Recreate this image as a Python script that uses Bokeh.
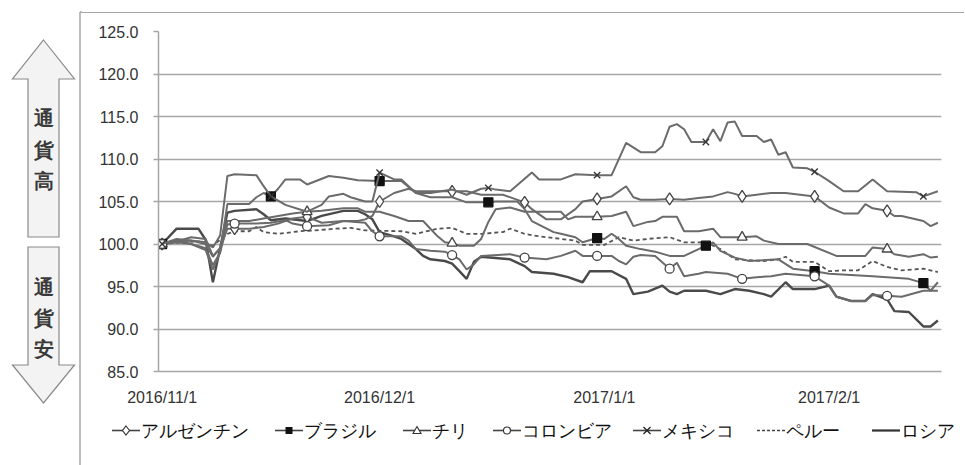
from bokeh.plotting import figure
from bokeh.models import Range1d, FixedTicker, ColumnDataSource, NumeralTickFormatter, Div
from bokeh.layouts import row, column
from bokeh.embed import file_html
from bokeh.resources import INLINE
import pandas as pd

START = "2016-11-01"
X_TICK_LABELS = ["2016/11/1", "2016/12/1", "2017/1/1", "2017/2/1"]
X_TICK_DATES = ["2016-11-01", "2016-12-01", "2017-01-01", "2017-02-01"]
Y_TICKS = [85, 90, 95, 100, 105, 110, 115, 120, 125]

# (days since 2016/11/1, index value)
ARGENTINA = [(0,100),(2,100.3),(4,100.8),(6,100.6),(7,98.6),(8,99.5),(9,101.8),(10,101.8),(12,101.8),(14,102.0),
             (16,102.4),(18,103.0),(20,103.2),(22,102.5),(25,102.7),(27,102.7),(28,102.9),(29,103.3),(30,105.0),(32,106.0),
             (34,106.5),(35,106.2),(38,106.2),(40,106.2),(42,106.2),(44,105.8),(45,105.8),(47,105.8),(50,104.9),(51,104.1),
             (53,102.9),(55,102.9),(57,104.1),(58,105.0),(60,105.3),(62,105.6),(64,106.8),(65,105.5),(66,105.2),(68,105.2),
             (70,105.3),(72,105.2),(74,105.4),(76,105.6),(78,106.1),(79,105.9),(80,105.6),(82,105.8),(84,106.0),(86,106.0),
             (90,105.6),(92,104.3),(94,103.6),(96,103.6),(97,104.7),(98,104.2),(100,103.9),(101,103.3),(102,103.3),(105,102.7),
             (106,102.1),(107,102.5)]
BRAZIL = [(0,100),(2,100.5),(4,100.0),(6,99.3),(7,97.0),(8,99.0),(9,104.7),(12,104.7),(13,105.5),(14,106.0),
          (15,105.6),(16,106.5),(17,107.6),(19,107.6),(20,107.0),(23,108.0),(25,107.8),(27,107.5),(30,107.4),(33,107.4),
          (35,106.0),(37,105.5),(40,105.5),(42,104.9),(45,104.9),(46,105.0),(49,105.0),(50,104.1),(51,102.7),(54,101.4),
          (55,101.2),(57,100.8),(58,100.2),(60,100.7),(61,100.6),(62,101.2),(63,100.6),(64,99.8),(66,99.4),(68,99.1),
          (70,98.6),(72,98.6),(74,99.4),(75,99.8),(76,100.2),(77,99.2),(79,98.4),(81,98.0),(85,98.2),(87,97.1),
          (90,96.8),(92,96.5),(98,96.2),(103,95.9),(105,95.4),(106,94.5),(107,95.5)]
CHILE = [(0,100),(2,100.2),(4,100.4),(6,100.0),(7,98.5),(8,99.5),(9,102.7),(12,102.7),(14,103.0),(16,103.3),
         (18,103.6),(20,103.8),(22,103.9),(25,104.2),(27,104.2),(28,103.8),(30,103.8),(32,103.3),(34,102.7),(36,102.7),
         (37,101.8),(38,100.9),(39,100.2),(40,100.1),(41,99.8),(43,99.8),(44,100.6),(45,102.6),(46,104.1),(48,104.3),
         (50,103.8),(55,103.8),(56,102.9),(57,103.2),(60,103.2),(62,103.3),(64,103.8),(65,102.1),(67,102.6),(68,102.7),
         (69,103.2),(71,103.2),(72,101.5),(74,101.5),(76,101.8),(77,100.8),(80,100.8),(82,100.9),(83,100.4),(85,100.0),
         (89,100.0),(93,98.6),(97,98.6),(98,99.6),(100,99.4),(101,98.8),(103,98.5),(105,98.8),(106,98.4),(107,98.5)]
COLOMBIA = [(0,100),(2,100.2),(4,100.0),(6,99.5),(7,97.5),(8,99.0),(9,102.3),(10,102.4),(13,102.4),(15,102.5),
            (17,102.8),(18,102.4),(20,102.1),(23,102.2),(25,102.7),(28,102.5),(29,101.5),(30,100.9),(33,100.9),(34,100.4),
            (35,99.4),(37,99.2),(39,99.1),(40,98.7),(41,98.2),(42,97.0),(43,97.6),(44,98.6),(48,98.8),(50,98.4),
            (53,98.2),(55,98.6),(57,99.2),(58,98.6),(60,98.6),(62,98.6),(63,98.0),(64,97.6),(65,98.5),(66,98.7),
            (68,98.6),(70,97.1),(71,97.8),(72,96.2),(74,96.5),(75,96.7),(78,96.5),(80,95.9),(82,96.1),(84,96.2),
            (86,96.5),(90,96.2),(92,95.1),(93,93.8),(95,93.3),(97,93.3),(98,94.0),(100,93.9),(102,93.8),(105,94.5),
            (107,94.5)]
MEXICO = [(0,100),(2,100.6),(4,100.4),(6,100.2),(7,99.6),(8,101.0),(9,108.0),(10,108.2),(13,108.1),(14,106.8),
          (15,105.6),(17,104.6),(20,103.8),(22,104.6),(23,105.6),(25,105.9),(26,105.5),(28,105.0),(29,105.0),(30,108.4),
          (32,107.6),(33,107.6),(35,106.0),(37,106.0),(40,106.4),(42,105.8),(44,106.5),(45,106.6),(46,106.4),(48,106.2),
          (51,108.4),(52,107.6),(55,107.6),(57,108.2),(60,108.1),(62,108.1),(64,111.9),(66,110.8),(68,110.8),(69,111.5),
          (70,113.8),(71,114.1),(72,113.5),(73,112.0),(75,112.0),(76,113.5),(77,112.1),(78,114.3),(79,114.4),(80,112.7),
          (82,112.7),(83,112.0),(84,112.3),(85,110.5),(86,110.8),(87,109.0),(89,108.9),(90,108.5),(92,107.4),(94,106.2),
          (96,106.2),(98,107.6),(100,106.2),(104,106.1),(105,105.6),(107,106.2)]
PERU = [(0,100),(3,100.2),(5,100.3),(7,99.8),(8,100.5),(9,101.2),(10,101.5),(12,101.5),(13,102.0),(14,101.4),
        (16,101.2),(17,101.3),(19,101.5),(21,101.6),(24,101.8),(26,101.9),(28,101.6),(33,101.5),(35,101.2),(38,101.8),
        (40,101.9),(42,101.2),(44,101.2),(47,101.4),(48,101.8),(50,101.2),(52,100.9),(55,100.6),(57,100.4),(58,99.9),
        (61,99.9),(63,100.8),(65,100.4),(67,100.6),(70,100.8),(72,100.2),(75,100.2),(77,99.4),(79,98.2),(83,98.0),
        (85,98.2),(86,98.5),(87,97.9),(90,97.9),(92,96.8),(94,96.9),(96,96.9),(98,98.0),(100,97.3),(102,96.9),
        (105,97.1),(107,96.7)]
RUSSIA = [(0,100),(2,101.8),(5,101.8),(6,100.5),(7,95.5),(8,99.5),(9,103.7),(10,103.9),(13,104.1),(14,103.5),
          (15,102.8),(17,103.0),(20,102.7),(22,103.3),(25,103.9),(27,103.9),(28,103.5),(29,102.9),(30,101.4),(32,100.9),
          (33,100.6),(35,99.4),(36,98.6),(37,98.2),(39,98.0),(40,97.7),(41,96.8),(42,95.9),(43,97.9),(44,98.5),
          (48,98.2),(50,97.4),(51,96.7),(54,96.5),(56,96.1),(58,95.5),(59,96.8),(62,96.8),(64,95.9),(65,94.1),
          (67,94.4),(69,95.1),(70,94.4),(71,94.1),(72,94.5),(75,94.5),(77,94.1),(79,94.7),(81,94.5),(83,94.1),
          (84,93.8),(86,95.5),(87,94.7),(90,94.7),(92,95.1),(93,93.8),(95,93.3),(97,93.3),(98,94.1),(100,93.5),
          (101,92.1),(103,92.0),(105,90.3),(106,90.3),(107,91.0)]

# days that carry a marker symbol
MARK_ARG = [0, 10, 20, 30, 40, 50, 60, 70, 80, 90, 100]
MARK_BRA = [0, 15, 30, 45, 60, 75, 90, 105]
MARK_CHL = [0, 20, 40, 60, 80, 100]
MARK_COL = [0, 10, 20, 30, 40, 50, 60, 70, 80, 90, 100]
MARK_MEX = [0, 15, 30, 45, 60, 75, 90, 105]

NAMES = ["アルゼンチン", "ブラジル", "チリ", "コロンビア", "メキシコ", "ペルー", "ロシア"]
ARROW_UP_TEXT = ["通", "貨", "高"]
ARROW_DOWN_TEXT = ["通", "貨", "安"]

JP = "Noto Sans CJK JP"
NUM = "Liberation Sans"
GRID = "#a6a6a6"
LINE = "#6b6b6b"
DARK = "#4a4a4a"

t0 = pd.Timestamp(START)


def to_dates(days):
    return [t0 + pd.Timedelta(days=d) for d in days]


def series_source(pairs):
    return ColumnDataSource(dict(x=to_dates([d for d, _ in pairs]), y=[v for _, v in pairs]))


def marker_source(pairs, mark_days):
    lookup = dict(pairs)
    return ColumnDataSource(dict(x=to_dates(mark_days), y=[lookup[d] for d in mark_days]))


# ---------------- left decoration: arrows + chart-area border (inline SVG) ----------------
def vtext(chars, ys):
    return "".join(
        f'<text x="43.5" y="{y}" text-anchor="middle" dominant-baseline="central" '
        f'font-family="{JP}" font-size="20" font-weight="bold" fill="#3a3a3a">{c}</text>'
        for c, y in zip(chars, ys))

svg_left = (
    '<svg xmlns="http://www.w3.org/2000/svg" width="82" height="465" style="display:block">'
    '<polygon points="43.5,40 74.5,79 59,79 59,237 28,237 28,79 12.5,79" '
    'fill="#f3f3f3" stroke="#8a8a8a" stroke-width="1.2"/>'
    '<polygon points="28,247 59,247 59,365 74.5,365 43.5,403 12.5,365 28,365" '
    'fill="#f3f3f3" stroke="#8a8a8a" stroke-width="1.2"/>'
    + vtext(ARROW_UP_TEXT, [118, 150, 181]) + vtext(ARROW_DOWN_TEXT, [287, 318, 349]) +
    f'<line x1="80" y1="12" x2="80" y2="465" stroke="{GRID}" stroke-width="1.5"/>'
    f'<line x1="80" y1="12" x2="82" y2="12" stroke="{GRID}" stroke-width="1.5"/>'
    '</svg>'
)
left = Div(text=svg_left, width=82, height=465, margin=0, styles={"padding": "0px", "overflow": "visible"})

# ---------------- chart ----------------
x_start = t0 - pd.Timedelta(hours=12)
x_end = t0 + pd.Timedelta(days=107, hours=12)

p = figure(width=882, height=401, x_axis_type="datetime",
           x_range=Range1d(x_start, x_end), y_range=Range1d(85, 125),
           toolbar_location=None, output_backend="svg",
           min_border_left=76, min_border_right=23, min_border_top=18, min_border_bottom=43)
p.margin = (12, 0, 0, 0)
p.styles = {"border-top": "1.5px solid " + GRID}
p.outline_line_color = None
p.xgrid.grid_line_color = None
p.ygrid.grid_line_color = GRID
p.ygrid.grid_line_width = 1.5

p.yaxis.ticker = FixedTicker(ticks=Y_TICKS)
p.yaxis.formatter = NumeralTickFormatter(format="0.0")
p.yaxis.axis_line_color = GRID
p.yaxis.axis_line_width = 1.5
p.yaxis.major_tick_line_color = GRID
p.yaxis.major_tick_line_width = 1.5
p.yaxis.major_tick_out = 5
p.yaxis.major_tick_in = 0
p.yaxis.minor_tick_line_color = None
p.yaxis.major_label_standoff = 15
p.yaxis.major_label_text_font = NUM
p.yaxis.major_label_text_font_size = "16px"
p.yaxis.major_label_text_color = "#333333"

tick_ms = [pd.Timestamp(d).value // 10**6 for d in X_TICK_DATES]
p.xaxis.ticker = FixedTicker(ticks=tick_ms)
p.xaxis.major_label_overrides = {ms: lab for ms, lab in zip(tick_ms, X_TICK_LABELS)}
p.xaxis.axis_line_color = GRID
p.xaxis.axis_line_width = 1.5
p.xaxis.major_tick_line_color = None
p.xaxis.minor_tick_line_color = None
p.xaxis.major_label_standoff = 11
p.xaxis.major_label_text_font = NUM
p.xaxis.major_label_text_font_size = "16px"
p.xaxis.major_label_text_color = "#333333"


def add_series(pairs, marks, marker, fill, size, color=LINE, width=2.0, dash="solid", mcolor="#444444"):
    p.line("x", "y", source=series_source(pairs), line_color=color, line_width=width, line_dash=dash)
    if marks is not None:
        p.scatter("x", "y", source=marker_source(pairs, marks), marker=marker, size=size,
                  fill_color=fill, line_color=mcolor, line_width=1.3)

add_series(RUSSIA, None, None, None, 0, color=DARK, width=2.4)
add_series(PERU, None, None, None, 0, color="#555555", width=1.8, dash="4 3")
add_series(ARGENTINA, MARK_ARG, "diamond", "white", 12)
add_series(BRAZIL, MARK_BRA, "square", "#111111", 9, mcolor="#111111")
add_series(CHILE, MARK_CHL, "triangle", "white", 10)
add_series(COLOMBIA, MARK_COL, "circle", "white", 9)
add_series(MEXICO, MARK_MEX, "x", None, 9, mcolor="#333333")

# ---------------- legend row (inline SVG) ----------------
LEG_X = [30, 193, 321, 411, 551, 675, 790]   # left end of each legend sample
LEG_Y = 17.5
GW = 28


def leg_marker(kind, cx, cy):
    if kind == "diamond":
        return (f'<polygon points="{cx},{cy-4.5} {cx+3.5},{cy} {cx},{cy+4.5} {cx-3.5},{cy}" '
                f'fill="white" stroke="#333" stroke-width="1.1"/>')
    if kind == "square":
        return f'<rect x="{cx-3.5}" y="{cy-3.5}" width="7" height="7" fill="#111"/>'
    if kind == "triangle":
        return (f'<polygon points="{cx},{cy-4} {cx+4},{cy+3} {cx-4},{cy+3}" '
                f'fill="white" stroke="#333" stroke-width="1.1"/>')
    if kind == "circle":
        return f'<circle cx="{cx}" cy="{cy}" r="3.5" fill="white" stroke="#333" stroke-width="1.1"/>'
    if kind == "x":
        return (f'<path d="M{cx-3.5},{cy-3.5} L{cx+3.5},{cy+3.5} M{cx-3.5},{cy+3.5} L{cx+3.5},{cy-3.5}" '
                f'stroke="#222" stroke-width="1.3"/>')
    return ""

LEG_STYLE = [("diamond", "#444", 1.6, None), ("square", "#444", 1.6, None), ("triangle", "#444", 1.6, None),
             ("circle", "#444", 1.6, None), ("x", "#444", 1.6, None), (None, "#444", 1.6, "3 2"),
             (None, "#333", 2.2, None)]

parts = ['<svg xmlns="http://www.w3.org/2000/svg" width="882" height="50" style="display:block">']
for name, x0, (kind, col, lw, dash) in zip(NAMES, LEG_X, LEG_STYLE):
    dash_attr = f' stroke-dasharray="{dash}"' if dash else ""
    parts.append(f'<line x1="{x0}" y1="{LEG_Y}" x2="{x0+GW}" y2="{LEG_Y}" stroke="{col}" '
                 f'stroke-width="{lw}"{dash_attr}/>')
    parts.append(leg_marker(kind, x0 + GW / 2, LEG_Y))
    parts.append(f'<text x="{x0+GW+1}" y="{LEG_Y}" dominant-baseline="central" font-family="{JP}" '
                 f'font-size="18" fill="#111">{name}</text>')
parts.append('</svg>')
legend_div = Div(text="".join(parts), width=882, height=50, margin=0,
                 styles={"padding": "0px", "overflow": "visible"})

layout = row(left, column(p, legend_div))
open("out.html", "w").write(file_html(layout, INLINE))
